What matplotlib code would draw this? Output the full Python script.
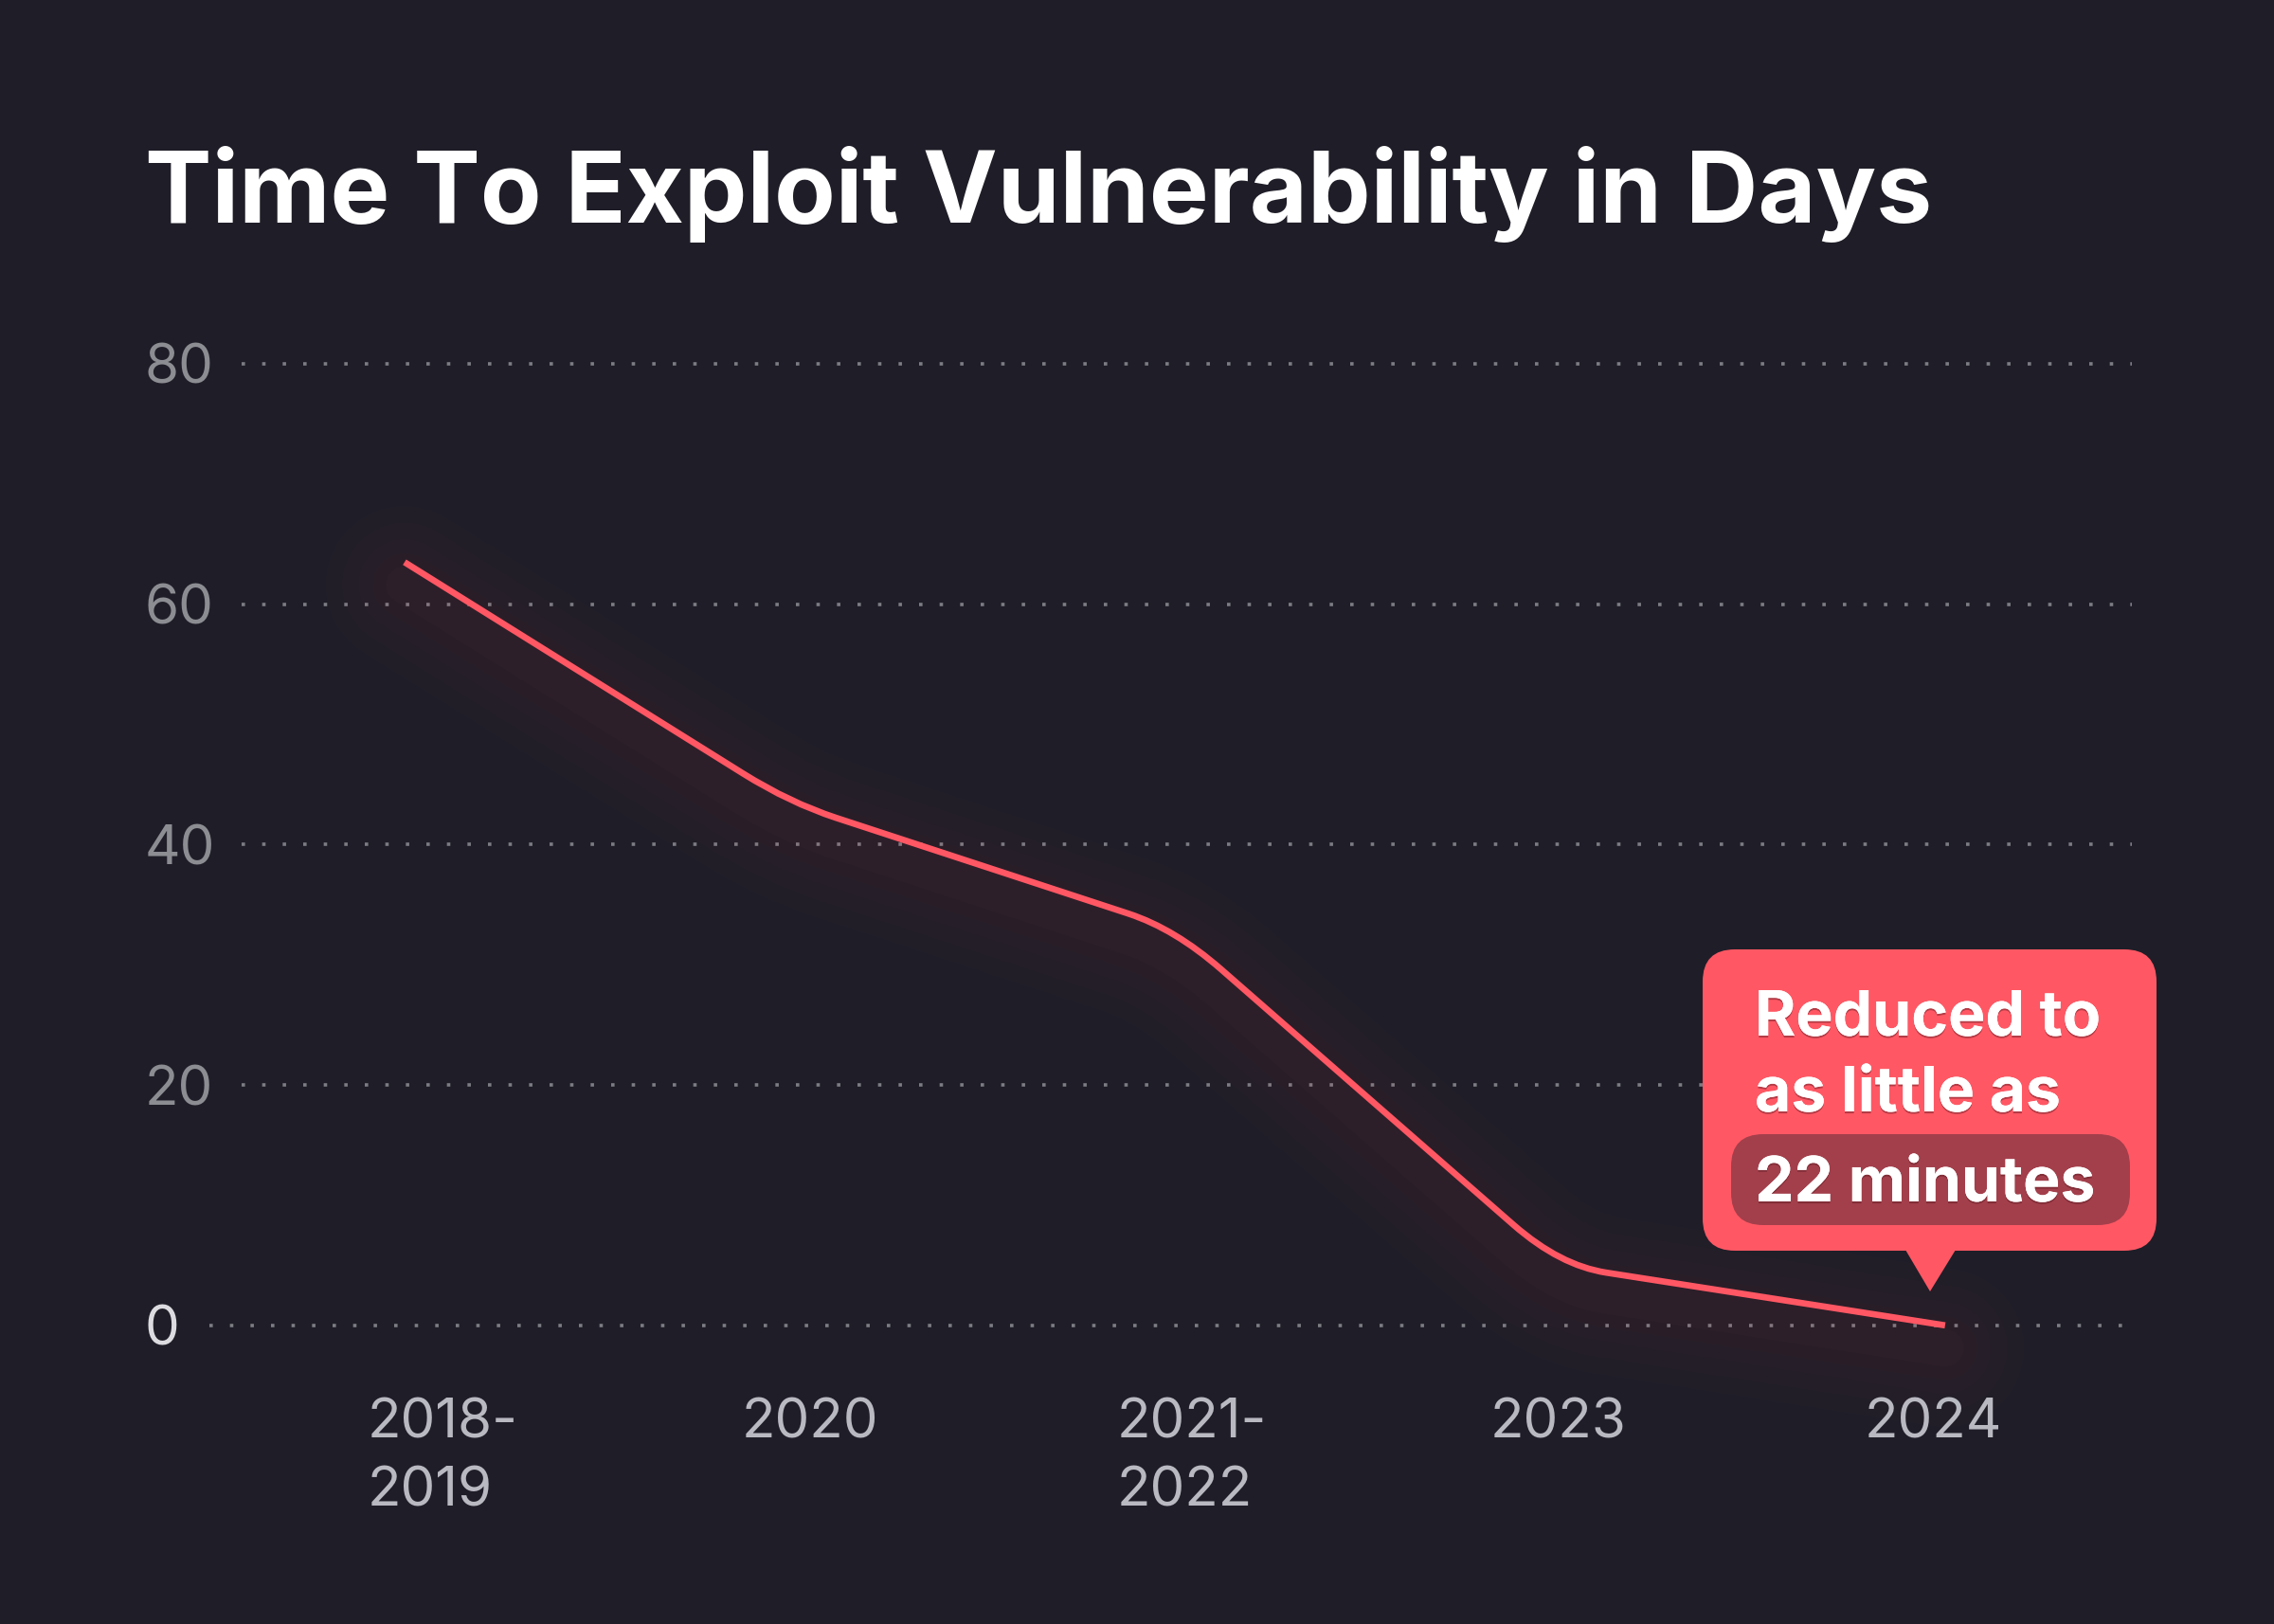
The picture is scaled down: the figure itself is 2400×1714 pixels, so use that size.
import numpy as np
import matplotlib
matplotlib.use('Agg')
import matplotlib.pyplot as plt
import matplotlib.transforms as mtransforms
import matplotlib.patheffects as pe
from matplotlib.path import Path
from matplotlib.patches import PathPatch, FancyBboxPatch, Polygon

# data
periods = ['2018-\n2019', '2020', '2021-\n2022', '2023', '2024']
days = [63.5, 43.5, 33.0, 5.0, 22 / 1440]   # last one = 22 minutes
y_ticks = [0, 20, 40, 60, 80]
callout_lines = ['Reduced to', 'as little as', '22 minutes']
title = 'Time To Exploit Vulnerability in Days'

BG = '#1f1e28'
RED = '#ff5763'
W, H = 2400, 1714

plt.rcParams['font.family'] = ['Inter', 'DejaVu Sans']

fig = plt.figure(figsize=(W / 100, H / 100), dpi=100, facecolor=BG)
ax = fig.add_axes([255 / W, 1 - 1399 / H, (2250 - 255) / W, (1399 - 384) / H])
ax.set_facecolor('none')
ax.set_xlim(-0.423, 4.485)
ax.set_ylim(0, 80)
ax.axis('off')

# dotted grid
for v in y_ticks:
    x0 = -34 / 1995 if v == 0 else 0
    ax.plot([x0, 1], [v, v], transform=ax.get_yaxis_transform(), color='#7c7c84',
            lw=2.6, ls=(0, (1, 5.0)), clip_on=False, zorder=1)

# y labels, left aligned at the title edge
ylab_tr = mtransforms.offset_copy(
    mtransforms.blended_transform_factory(fig.transFigure, ax.transData),
    fig=fig, y=-21, units='dots')
for v in y_ticks:
    ax.text(153 / W, v, str(v), transform=ylab_tr, ha='left', va='baseline',
            fontsize=42, color='#dcdce0' if v == 0 else '#8c8c93', clip_on=False)

# x labels
xlab_tr = mtransforms.offset_copy(ax.transData, fig=fig, y=-77, units='dots')
for i, lab in enumerate(periods):
    shift = 0.02 if '\n' in lab else 0.0
    ax.text(0.08 + 0.972 * i + shift, 0, lab, transform=xlab_tr, ha='center', va='top',
            multialignment='left', linespacing=1.42, fontsize=42, color='#b9b9c2',
            clip_on=False)

# line with rounded corners
xs = np.arange(len(days), dtype=float)
ys = np.array(days)
f = 0.12
verts = [(xs[0], ys[0])]
codes = [Path.MOVETO]
for i in range(1, len(xs) - 1):
    p_prev = np.array([xs[i - 1], ys[i - 1]])
    p = np.array([xs[i], ys[i]])
    p_next = np.array([xs[i + 1], ys[i + 1]])
    a = p + (p_prev - p) * f
    b = p + (p_next - p) * f
    verts += [tuple(a), tuple(p), tuple(b)]
    codes += [Path.LINETO, Path.CURVE3, Path.CURVE3]
verts.append((xs[-1], ys[-1]))
codes.append(Path.LINETO)
line_path = Path(verts, codes)

# soft glow under the line
glow_tr = mtransforms.offset_copy(ax.transData, fig=fig, y=-24, units='dots')
for lw, al in [(120, 0.010), (95, 0.012), (70, 0.014), (48, 0.016), (28, 0.018)]:
    ax.add_patch(PathPatch(line_path, transform=glow_tr, facecolor='none', edgecolor=RED,
                           lw=lw, alpha=al, capstyle='round', joinstyle='round',
                           clip_on=False, zorder=2))
ax.add_patch(PathPatch(line_path, facecolor='none', edgecolor=RED, lw=4.8,
                       capstyle='butt', joinstyle='round', clip_on=False, zorder=3))

# title
px = mtransforms.IdentityTransform()
fig.text(153, H - 235, title, transform=px, ha='left', va='baseline',
         fontsize=76, fontweight='bold', color='white')

# callout
box = FancyBboxPatch((1797, H - 1320), 2276 - 1797, 1320 - 1002,
                     boxstyle='round,pad=0,rounding_size=34', transform=px,
                     facecolor='#ff5864', edgecolor='none', zorder=5)
fig.add_artist(box)
tip = Polygon([(2011, H - 1319), (2064, H - 1319), (2037, H - 1363)], closed=True,
              transform=px, facecolor='#ff5864', edgecolor='none', zorder=5)
fig.add_artist(tip)
pill = FancyBboxPatch((1827, H - 1293), 2248 - 1827, 1293 - 1197,
                      boxstyle='round,pad=0,rounding_size=34', transform=px,
                      facecolor='#a33f4b', edgecolor='none', zorder=6)
fig.add_artist(pill)

shadow = [pe.withSimplePatchShadow(offset=(0, -1.5), shadow_rgbFace='#5a1a22', alpha=0.45)]
for txt, base in zip(callout_lines, [1093, 1173, 1268]):
    t = fig.text(1852, H - base, txt, transform=px, ha='left', va='baseline',
                 fontsize=47.5, fontweight='bold', color='white', zorder=7)
    t.set_path_effects(shadow + [pe.Normal()])

fig.savefig('out.png', dpi=100, facecolor=BG)
